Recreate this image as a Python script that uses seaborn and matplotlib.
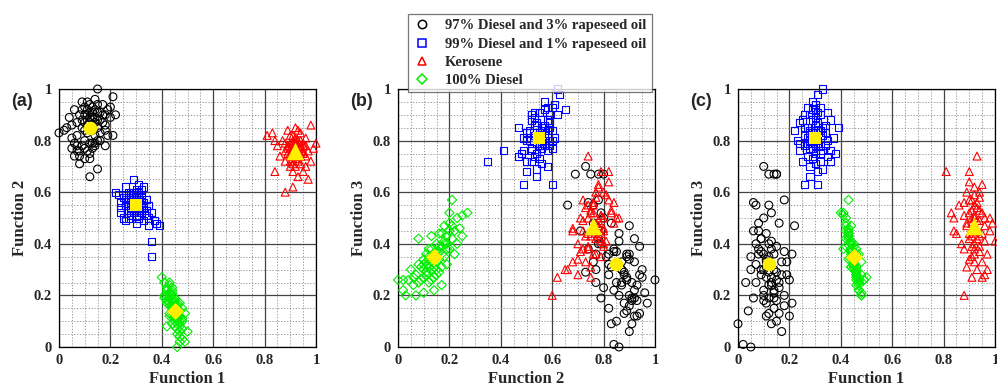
import numpy as np
import pandas as pd
import matplotlib
matplotlib.use('Agg')
import matplotlib.pyplot as plt
from matplotlib.ticker import MultipleLocator
from matplotlib.lines import Line2D
import seaborn as sns

# discriminant function scores per sample (f1, f2, f3)
blk_f1 = [0.12, 0.00, 0.02, 0.05, 0.15, 0.21, 0.22, 0.21, 0.12, 0.15, 0.08, 0.10, 0.12, 0.14, 0.15,
          0.06, 0.07, 0.09, 0.11, 0.13, 0.14, 0.16, 0.05, 0.08, 0.10, 0.12, 0.09, 0.10, 0.11, 0.12,
          0.13, 0.14, 0.15, 0.16, 0.17, 0.18, 0.19, 0.20, 0.08, 0.07, 0.06, 0.11, 0.13, 0.15, 0.17,
          0.04, 0.03, 0.09, 0.12, 0.14, 0.16, 0.18, 0.19, 0.20, 0.10, 0.07, 0.13, 0.11, 0.06, 0.18,
          0.10, 0.13, 0.11, 0.14, 0.12, 0.09, 0.15, 0.16, 0.13, 0.11, 0.08, 0.10, 0.12, 0.07, 0.14,
          0.17, 0.10, 0.12, 0.14, 0.09, 0.18, 0.05, 0.15, 0.13, 0.11]
blk_f2 = [0.85, 0.83, 0.84, 0.86, 1.00, 0.97, 0.90, 0.82, 0.66, 0.69, 0.71, 0.73, 0.75, 0.78, 0.80,
          0.74, 0.76, 0.78, 0.76, 0.77, 0.79, 0.80, 0.77, 0.74, 0.80, 0.79, 0.88, 0.90, 0.92, 0.89,
          0.93, 0.87, 0.91, 0.88, 0.94, 0.86, 0.92, 0.89, 0.90, 0.87, 0.92, 0.86, 0.84, 0.85, 0.90,
          0.89, 0.85, 0.95, 0.94, 0.96, 0.83, 0.84, 0.82, 0.93, 0.84, 0.82, 0.91, 0.88, 0.79, 0.78,
          0.87, 0.89, 0.90, 0.92, 0.91, 0.85, 0.88, 0.91, 0.86, 0.83, 0.76, 0.77, 0.73, 0.78, 0.82,
          0.87, 0.93, 0.87, 0.89, 0.92, 0.90, 0.81, 0.94, 0.79, 0.95]
blk_f3 = [0.32, 0.09, 0.01, 0.00, 0.26, 0.17, 0.47, 0.36, 0.55, 0.67, 0.45, 0.70, 0.67, 0.67, 0.67,
          0.56, 0.55, 0.42, 0.33, 0.25, 0.19, 0.23, 0.30, 0.38, 0.50, 0.40, 0.28, 0.20, 0.12, 0.35,
          0.24, 0.30, 0.18, 0.13, 0.28, 0.20, 0.33, 0.26, 0.36, 0.25, 0.19, 0.44, 0.38, 0.10, 0.06,
          0.14, 0.25, 0.30, 0.13, 0.21, 0.48, 0.37, 0.28, 0.12, 0.22, 0.32, 0.09, 0.17, 0.45, 0.57,
          0.30, 0.27, 0.34, 0.22, 0.19, 0.37, 0.29, 0.25, 0.41, 0.31, 0.48, 0.36, 0.29, 0.40, 0.15,
          0.33, 0.18, 0.24, 0.36, 0.42, 0.16, 0.35, 0.39, 0.52, 0.27]

blu_f1 = [0.30, 0.22, 0.23, 0.24, 0.24, 0.25, 0.25, 0.26, 0.26, 0.26, 0.27, 0.27, 0.27, 0.28,
          0.28, 0.28, 0.29, 0.29, 0.29, 0.30, 0.30, 0.30, 0.31, 0.31, 0.31, 0.32, 0.32, 0.32,
          0.33, 0.33, 0.33, 0.34, 0.34, 0.35, 0.35, 0.36, 0.36, 0.36, 0.37, 0.38, 0.39, 0.31,
          0.28, 0.30, 0.27, 0.29, 0.32, 0.30, 0.28, 0.31, 0.29, 0.33, 0.26, 0.35, 0.24, 0.30,
          0.29, 0.31, 0.30, 0.28, 0.32, 0.29, 0.31, 0.30, 0.27, 0.33, 0.28, 0.30, 0.32, 0.29,
          0.31, 0.26, 0.34, 0.30, 0.28, 0.32]
blu_f2 = [0.55, 0.60, 0.59, 0.56, 0.52, 0.58, 0.50, 0.62, 0.55, 0.49, 0.57, 0.53, 0.60, 0.51,
          0.58, 0.55, 0.65, 0.52, 0.59, 0.48, 0.57, 0.61, 0.54, 0.50, 0.63, 0.56, 0.52, 0.59,
          0.55, 0.49, 0.62, 0.53, 0.57, 0.50, 0.47, 0.52, 0.41, 0.35, 0.49, 0.48, 0.47, 0.60,
          0.54, 0.56, 0.50, 0.57, 0.58, 0.53, 0.56, 0.51, 0.55, 0.54, 0.57, 0.55, 0.54, 0.59,
          0.56, 0.57, 0.54, 0.58, 0.55, 0.53, 0.59, 0.58, 0.55, 0.56, 0.52, 0.50, 0.61, 0.60,
          0.53, 0.59, 0.51, 0.57, 0.60, 0.54]
blu_f3 = [0.81, 0.84, 0.80, 0.79, 0.76, 0.88, 0.72, 0.90, 0.78, 0.63, 0.85, 0.74, 0.93, 0.80,
          0.70, 0.83, 0.92, 0.77, 0.88, 0.75, 0.86, 0.94, 0.79, 0.68, 0.98, 0.84, 0.72, 0.90,
          0.82, 0.76, 1.00, 0.86, 0.78, 0.80, 0.74, 0.88, 0.76, 0.72, 0.81, 0.75, 0.85, 0.63,
          0.66, 0.71, 0.81, 0.95, 0.93, 0.89, 0.77, 0.84, 0.73, 0.69, 0.82, 0.91, 0.87, 0.78,
          0.83, 0.80, 0.86, 0.84, 0.78, 0.82, 0.87, 0.76, 0.79, 0.85, 0.90, 0.83, 0.81, 0.77,
          0.91, 0.85, 0.83, 0.92, 0.80, 0.75]

ker_f1 = [0.92, 0.81, 0.83, 0.84, 0.84, 0.85, 0.86, 0.87, 0.88, 0.88, 0.89, 0.89, 0.90, 0.90,
          0.90, 0.91, 0.91, 0.91, 0.92, 0.92, 0.92, 0.93, 0.93, 0.93, 0.94, 0.94, 0.94, 0.95,
          0.95, 0.95, 0.96, 0.96, 0.97, 0.97, 0.98, 0.98, 1.00, 0.99, 0.92, 0.91, 0.93, 0.90,
          0.94, 0.92, 0.89, 0.95, 0.91, 0.93, 0.96, 0.88, 0.92, 0.90,
          0.91, 0.93, 0.92, 0.90, 0.94, 0.91, 0.93, 0.92, 0.89, 0.95, 0.92, 0.90, 0.94, 0.91,
          0.93, 0.96, 0.88, 0.92, 0.91, 0.94]
ker_f2 = [0.76, 0.82, 0.83, 0.80, 0.68, 0.78, 0.74, 0.80, 0.60, 0.72, 0.77, 0.84, 0.70, 0.79,
          0.75, 0.62, 0.82, 0.73, 0.78, 0.70, 0.85, 0.74, 0.66, 0.80, 0.77, 0.71, 0.83, 0.75,
          0.79, 0.68, 0.74, 0.81, 0.65, 0.76, 0.86, 0.72, 0.79, 0.77, 0.76, 0.79, 0.72, 0.77,
          0.74, 0.81, 0.75, 0.78, 0.68, 0.84, 0.70, 0.79, 0.73, 0.82,
          0.77, 0.76, 0.79, 0.74, 0.78, 0.75, 0.78, 0.74, 0.78, 0.76, 0.80, 0.72, 0.75, 0.80,
          0.73, 0.78, 0.76, 0.77, 0.71, 0.80]
ker_f3 = [0.47, 0.68, 0.52, 0.50, 0.45, 0.44, 0.55, 0.40, 0.20, 0.38, 0.60, 0.48, 0.34, 0.68,
          0.52, 0.27, 0.57, 0.43, 0.62, 0.40, 0.50, 0.74, 0.30, 0.46, 0.58, 0.37, 0.53, 0.27,
          0.44, 0.33, 0.50, 0.41, 0.30, 0.36, 0.50, 0.45, 0.41, 0.48, 0.55, 0.35, 0.49, 0.42,
          0.39, 0.59, 0.31, 0.63, 0.46, 0.56, 0.28, 0.51, 0.33, 0.64,
          0.48, 0.45, 0.51, 0.44, 0.49, 0.53, 0.42, 0.38, 0.47, 0.52, 0.45, 0.57, 0.43, 0.39,
          0.54, 0.47, 0.56, 0.36, 0.50, 0.60]

dsl_f1 = [0.46, 0.47, 0.48, 0.47, 0.46, 0.47, 0.48, 0.46, 0.45, 0.42, 0.47, 0.48, 0.46, 0.45, 0.46,
          0.47, 0.45, 0.44, 0.45, 0.43, 0.45, 0.46, 0.47, 0.44, 0.45, 0.44, 0.46, 0.43, 0.45, 0.46,
          0.44, 0.42, 0.45, 0.43, 0.45, 0.44, 0.42, 0.41, 0.43, 0.43, 0.42, 0.44, 0.42, 0.44, 0.43,
          0.43, 0.41, 0.40, 0.46, 0.49, 0.50, 0.49, 0.44, 0.48, 0.47, 0.41, 0.43, 0.44,
          0.45, 0.44, 0.46, 0.45, 0.44, 0.46, 0.45, 0.43, 0.47, 0.44, 0.46, 0.45, 0.47, 0.43,
          0.45, 0.44, 0.46, 0.42, 0.48, 0.45]
dsl_f2 = [0.00, 0.02, 0.03, 0.04, 0.05, 0.06, 0.07, 0.07, 0.08, 0.08, 0.09, 0.10, 0.10, 0.10, 0.11,
          0.12, 0.12, 0.12, 0.13, 0.13, 0.14, 0.14, 0.14, 0.15, 0.15, 0.16, 0.16, 0.16, 0.17, 0.17,
          0.18, 0.18, 0.18, 0.19, 0.19, 0.20, 0.20, 0.20, 0.21, 0.21, 0.22, 0.22, 0.23, 0.23, 0.24,
          0.25, 0.25, 0.27, 0.11, 0.13, 0.06, 0.02, 0.09, 0.15, 0.17, 0.19, 0.12, 0.14,
          0.13, 0.15, 0.12, 0.16, 0.18, 0.11, 0.14, 0.17, 0.10, 0.16, 0.13, 0.19, 0.08, 0.20,
          0.12, 0.21, 0.15, 0.17, 0.11, 0.10]
dsl_f3 = [0.26, 0.22, 0.20, 0.26, 0.30, 0.24, 0.20, 0.28, 0.32, 0.42, 0.26, 0.21, 0.30, 0.34, 0.28,
          0.25, 0.32, 0.38, 0.30, 0.43, 0.35, 0.27, 0.22, 0.40, 0.33, 0.37, 0.29, 0.44, 0.31, 0.24,
          0.40, 0.47, 0.35, 0.43, 0.32, 0.38, 0.48, 0.52, 0.42, 0.57, 0.45, 0.36, 0.50, 0.40, 0.46,
          0.43, 0.51, 0.52, 0.36, 0.26, 0.27, 0.26, 0.31, 0.28, 0.36, 0.38, 0.34, 0.31,
          0.33, 0.37, 0.31, 0.39, 0.41, 0.29, 0.36, 0.44, 0.27, 0.34, 0.38, 0.40, 0.25, 0.45,
          0.35, 0.47, 0.30, 0.39, 0.33, 0.32]

# group centroids (f1, f2, f3)
cen_blk = [0.12, 0.85, 0.32]
cen_blu = [0.30, 0.55, 0.81]
cen_ker = [0.92, 0.76, 0.47]
cen_dsl = [0.45, 0.14, 0.35]

labels = ['97% Diesel and 3% rapeseed oil', '99% Diesel and 1% rapeseed oil', 'Kerosene', '100% Diesel']
tick_vals = [0, 0.2, 0.4, 0.6, 0.8, 1]
tick_labels = ['0', '0.2', '0.4', '0.6', '0.8', '1']
colors = ['black', '#0000ff', '#ff0000', '#00ee00']
markers = ['o', 's', '^', 'D']
msize = [32, 26, 32, 22]
cen_size = [95, 85, 160, 75]

groups = [
    pd.DataFrame({'f1': blk_f1, 'f2': blk_f2, 'f3': blk_f3}),
    pd.DataFrame({'f1': blu_f1, 'f2': blu_f2, 'f3': blu_f3}),
    pd.DataFrame({'f1': ker_f1, 'f2': ker_f2, 'f3': ker_f3}),
    pd.DataFrame({'f1': dsl_f1, 'f2': dsl_f2, 'f3': dsl_f3}),
]
centroids = [cen_blk, cen_blu, cen_ker, cen_dsl]

sns.set_style('white')
plt.rcParams['font.family'] = ['Liberation Serif', 'DejaVu Serif']
plt.rcParams['font.weight'] = 'bold'

fig = plt.figure(figsize=(9.97, 3.88), dpi=100)
panels = [('f1', 'f2', 'Function 1', 'Function 2', '(a)', 59),
          ('f2', 'f3', 'Function 2', 'Function 3', '(b)', 398),
          ('f1', 'f3', 'Function 1', 'Function 3', '(c)', 738)]
idx = {'f1': 0, 'f2': 1, 'f3': 2}

for xc, yc, xl, yl, tag, left_px in panels:
    ax = fig.add_axes([left_px / 997, 41 / 388, 257 / 997, 258 / 388])
    for g, df in enumerate(groups):
        sns.scatterplot(data=df, x=xc, y=yc, ax=ax, marker=markers[g], s=msize[g],
                        color=colors[g], facecolor='none', edgecolor=colors[g],
                        linewidth=0.8, legend=False, zorder=3, clip_on=False)
    for g, c in enumerate(centroids):
        sns.scatterplot(x=[c[idx[xc]]], y=[c[idx[yc]]], ax=ax, marker=markers[g],
                        s=cen_size[g], color='#ffee00', edgecolor='#ffee00',
                        linewidth=0, legend=False, zorder=5)
    ax.set_xlim(0, 1)
    ax.set_ylim(0, 1)
    ax.set_xticks(tick_vals, tick_labels, fontsize=10.5, fontweight='bold')
    ax.set_yticks(tick_vals, tick_labels, fontsize=10.5, fontweight='bold')
    ax.xaxis.set_minor_locator(MultipleLocator(0.05))
    ax.yaxis.set_minor_locator(MultipleLocator(0.05))
    ax.grid(which='major', color='#444444', linewidth=0.9, linestyle='-', zorder=0)
    ax.grid(which='minor', color='#888888', linewidth=0.6, linestyle=(0, (1.5, 2.0)), zorder=0)
    ax.set_axisbelow(True)
    ax.tick_params(which='both', length=0, pad=5)
    for sp in ax.spines.values():
        sp.set_color('black')
        sp.set_linewidth(0.9)
    ax.set_xlabel(xl, fontsize=12, fontweight='bold', labelpad=3)
    ax.set_ylabel(yl, fontsize=12, fontweight='bold', labelpad=4)
    fig.text((left_px - 48) / 997, 1 - 101 / 388, tag, fontsize=13, fontweight='bold',
             family=['Liberation Sans', 'DejaVu Sans'], va='center', ha='left')

handles = [Line2D([], [], linestyle='none', marker=markers[g], markersize=6 if g != 3 else 5,
                  markerfacecolor='none', markeredgecolor=colors[g], markeredgewidth=1.1)
           for g in range(4)]
leg = fig.legend(handles, labels, loc='upper left', bbox_to_anchor=(408 / 997, 1 - 14 / 388),
                 frameon=True, fancybox=False, edgecolor='#555555', fontsize=10.5,
                 handlelength=1.2, handletextpad=1.0, labelspacing=0.35, borderpad=0.35,
                 borderaxespad=0)
leg.get_frame().set_linewidth(0.9)
for t in leg.get_texts():
    t.set_fontweight('bold')

fig.savefig('out.png', dpi=100)
